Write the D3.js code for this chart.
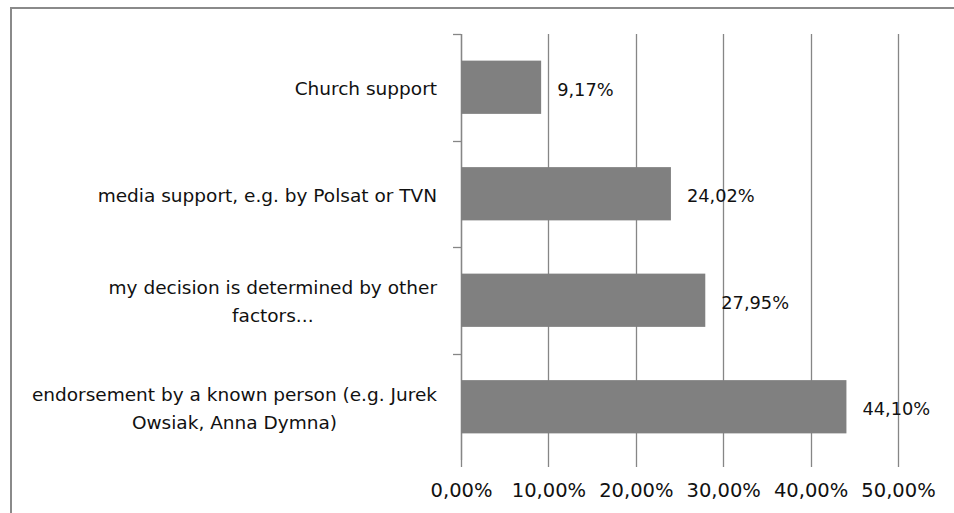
<!DOCTYPE html>
<html lang="en">
  <head>
    <meta charset="UTF-8" />
    <title>Bar chart</title>
    <style>
      body { margin: 0; background: #fff; }
      svg { display: block; font-family: "DejaVu Sans", sans-serif; }
    </style>
  </head>
  <script src="https://d3js.org/d3.v7.min.js"></script>
  <body>
    <div id="chart"></div>
  </body>
  <script>
    // data (top to bottom)
    const categories = [
      "Church support",
      "media support, e.g. by Polsat or TVN",
      "my decision is determined by other\nfactors...",
      "endorsement by a known person (e.g. Jurek\nOwsiak, Anna Dymna)",
    ];
    const values = [0.0917, 0.2402, 0.2795, 0.441];
    const tickValues = [0, 0.1, 0.2, 0.3, 0.4, 0.5];

    const W = 954, H = 513;
    const plot = { left: 461, right: 898, top: 34, bottom: 460 };

    // polish style percent: 44,10%
    const pct = d3
      .formatLocale({ decimal: ",", thousands: " ", grouping: [3], currency: ["", ""] })
      .format(".2%");

    const svg = d3
      .select("#chart")
      .append("svg")
      .attr("width", W)
      .attr("height", H);

    // outer frame (only top and left edges are visible in the picture)
    svg
      .append("path")
      .attr("d", `M11,${H} L11,8 L${W},8`)
      .attr("fill", "none")
      .attr("stroke", "#8a8a8a")
      .attr("stroke-width", 2);

    const x = d3.scaleLinear().domain([0, 0.5]).range([plot.left, plot.right]);
    const y = d3
      .scaleBand()
      .domain(categories)
      .range([plot.top, plot.bottom])
      .paddingInner(0.5)
      .paddingOuter(0.25);

    // vertical gridlines (they run a little below the plot like tick marks)
    svg
      .append("g")
      .selectAll("line")
      .data(tickValues)
      .join("line")
      .attr("x1", (d) => Math.round(x(d)) + 0.5)
      .attr("x2", (d) => Math.round(x(d)) + 0.5)
      .attr("y1", plot.top)
      .attr("y2", plot.bottom + 7)
      .attr("stroke", "#868686")
      .attr("stroke-width", 1.3);

    // category axis with ticks between categories (none at the bottom)
    const bounds = categories.map((c) => y(c) - y.step() * 0.25);
    const yAxis = svg.append("g");
    yAxis
      .append("line")
      .attr("x1", plot.left + 0.5)
      .attr("x2", plot.left + 0.5)
      .attr("y1", plot.top)
      .attr("y2", plot.bottom)
      .attr("stroke", "#868686")
      .attr("stroke-width", 1.3);
    yAxis
      .selectAll(".tick")
      .data(bounds)
      .join("line")
      .attr("class", "tick")
      .attr("x1", plot.left - 8)
      .attr("x2", plot.left)
      .attr("y1", (d) => Math.round(d) + 0.5)
      .attr("y2", (d) => Math.round(d) + 0.5)
      .attr("stroke", "#868686")
      .attr("stroke-width", 1.3);

    // bars
    svg
      .append("g")
      .selectAll("rect")
      .data(values)
      .join("rect")
      .attr("x", x(0))
      .attr("y", (d, i) => y(categories[i]))
      .attr("width", (d) => x(d) - x(0))
      .attr("height", y.bandwidth())
      .attr("fill", "#808080");

    // value labels
    svg
      .append("g")
      .selectAll("text")
      .data(values)
      .join("text")
      .attr("x", (d) => x(d) + 16)
      .attr("y", (d, i) => y(categories[i]) + y.bandwidth() / 2 + 2)
      .attr("dominant-baseline", "central")
      .attr("font-size", "17.8px")
      .attr("fill", "#111")
      .text((d) => pct(d));

    // category labels: block right-aligned, lines centred inside block
    const labelRight = 437;
    const lineGap = 28;
    categories.forEach((c, i) => {
      const lines = c.split("\n");
      const cy = y(c) + y.bandwidth() / 2 + 1;
      const t = svg
        .append("text")
        .attr("font-size", "18.5px")
        .attr("fill", "#111")
        .attr("text-anchor", "middle")
        .attr("dominant-baseline", "central");
      lines.forEach((l, j) => {
        t.append("tspan")
          .attr("y", cy + (j - (lines.length - 1) / 2) * lineGap)
          .text(l);
      });
      let maxW = 0;
      t.selectAll("tspan").each(function () {
        maxW = Math.max(maxW, this.getComputedTextLength());
      });
      t.selectAll("tspan").attr("x", labelRight - maxW / 2);
    });

    // value axis labels
    svg
      .append("g")
      .attr("transform", `translate(0,${plot.bottom})`)
      .call(d3.axisBottom(x).tickValues(tickValues).tickFormat(pct).tickSize(0))
      .call((g) => g.select(".domain").remove())
      .call((g) =>
        g
          .selectAll("text")
          .attr("y", 30)
          .attr("dy", null)
          .attr("dominant-baseline", "central")
          .attr("font-family", "DejaVu Sans, sans-serif")
          .attr("font-size", "19.5px")
          .attr("fill", "#111")
      );
  </script>
</html>
